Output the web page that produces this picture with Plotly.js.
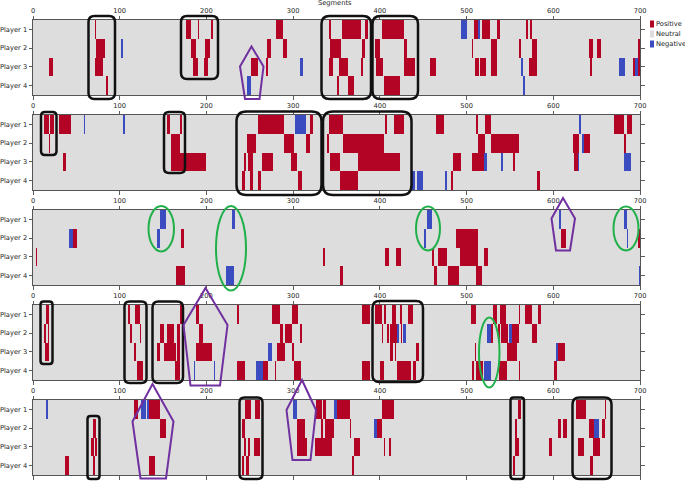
<!DOCTYPE html>
<html>
<head>
<meta charset="utf-8">
<script src="https://cdn.plot.ly/plotly-3.0.1.min.js"></script>
<style>html,body{margin:0;padding:0;background:#fff;}#chart{width:685px;height:481px;}</style>
</head>
<body>
<div id="chart"></div>
<script>
// ---------- DATA (segment intervals [start, end) per player) ----------
const nSegments = 700;
const xTickVals = [0, 100, 200, 300, 400, 500, 600, 700];
const playerLabels = ['Player 1', 'Player 2', 'Player 3', 'Player 4'];
const legendLabels = ['Positive', 'Neutral', 'Negative'];

const panel1Pos = [
  [[72,73],[176,182],[190,192],[205,208],[280,288],[341,344],[356,378],[383,386],[402,428],[508,513],[518,527],[535,538],[568,571],[573,575]],
  [[73,83],[182,188],[198,204],[270,274],[288,293],[343,355],[379,383],[394,400],[428,431],[506,507],[528,535],[560,563],[576,581],[641,646],[650,655],[698,700]],
  [[18,23],[72,81],[184,190],[197,202],[251,259],[269,271],[341,346],[353,363],[378,381],[396,404],[428,441],[458,465],[510,514],[516,522],[528,535],[572,581],[642,645],[692,694],[698,700]],
  [[84,87],[350,353],[363,370],[405,423]]
];
const panel1Neg = [
  [[494,500],[513,515]],
  [[102,104]],
  [[308,311],[563,565],[676,683],[694,698]],
  [[247,251],[565,567]]
];

const panel2Pos = [
  [[13,18],[20,24],[30,44],[155,158],[170,172],[260,289],[320,323],[341,357],[406,408],[416,428],[465,474],[511,513],[521,528],[670,681],[685,691]],
  [[18,20],[159,170],[247,257],[290,301],[315,319],[339,341],[358,405],[513,521],[528,560],[623,630],[635,642],[682,684]],
  [[35,38],[159,200],[243,246],[248,254],[264,277],[297,305],[342,354],[375,423],[484,494],[506,520],[553,556],[624,628]],
  [[241,245],[250,254],[259,263],[306,310],[354,375],[482,484],[581,585]]
];
const panel2Neg = [
  [[59,60],[104,106],[302,315],[630,632]],
  [[633,635]],
  [[520,524],[540,542],[628,630],[681,690]],
  [[437,441],[443,450],[475,478]]
];

const panel3Pos = [
  [],
  [[46,51],[171,174],[488,513],[609,615],[698,700]],
  [[3,5],[335,337],[406,411],[419,424],[460,462],[467,478],[492,513],[520,525]],
  [[165,175],[354,357],[463,466],[479,491],[511,518]]
];
const panel3Neg = [
  [[147,153],[229,233],[454,460],[607,609],[681,685]],
  [[41,46],[143,147],[451,453],[685,686]],
  [],
  [[223,232],[699,700]]
];

const panel4Pos = [
  [[15,18],[110,112],[118,123],[170,174],[188,191],[235,238],[276,285],[299,306],[379,389],[394,402],[405,407],[414,419],[423,425],[432,438],[505,511],[530,535],[538,546],[561,562],[567,576],[582,586]],
  [[13,15],[17,19],[112,114],[123,125],[146,151],[155,163],[166,169],[192,196],[285,288],[291,299],[308,310],[402,404],[408,410],[412,420],[424,426],[528,530],[536,538],[540,548],[552,560],[576,581]],
  [[14,19],[117,119],[143,147],[151,165],[166,170],[188,206],[281,291],[299,301],[412,415],[417,419],[442,445],[510,511],[547,558],[606,614]],
  [[120,127],[164,170],[235,244],[265,271],[279,280],[301,309],[379,389],[400,405],[420,436],[438,442],[506,509],[511,519],[537,547],[560,562],[601,604]]
];
const panel4Neg = [
  [],
  [[420,422],[427,430],[523,528],[549,552]],
  [[271,276],[603,606]],
  [[186,187],[209,210],[257,265],[520,528]]
];

const panel5Pos = [
  [[117,121],[134,146],[244,251],[256,262],[326,333],[335,338],[351,366],[402,416],[559,563],[626,638],[660,661]],
  [[69,73],[146,153],[241,244],[305,314],[332,335],[337,347],[366,367],[397,403],[556,558],[605,609],[611,616],[641,647],[656,660]],
  [[67,70],[72,74],[243,246],[248,250],[255,262],[305,316],[325,345],[370,377],[405,406],[410,413],[556,561],[595,598],[628,635],[646,654]],
  [[37,41],[69,72],[134,141],[241,243],[246,249],[368,370],[554,556],[642,646]]
];
const panel5Neg = [
  [[15,17],[125,130],[131,134],[300,305],[347,351]],
  [[393,397],[647,653]],
  [],
  []
];

// ---------- BUILD ----------
function buildZ(pos, neg) {
  const z = [];
  for (let r = 0; r < 4; r++) {
    const row = new Array(nSegments).fill(0);
    pos[r].forEach(([a, b]) => { for (let i = a; i < b && i < nSegments; i++) row[i] = 1; });
    neg[r].forEach(([a, b]) => { for (let i = a; i < b && i < nSegments; i++) row[i] = -1; });
    z.push(row);
  }
  return z;
}

const panels = [
  [panel1Pos, panel1Neg], [panel2Pos, panel2Neg], [panel3Pos, panel3Neg],
  [panel4Pos, panel4Neg], [panel5Pos, panel5Neg]
];
const xCenters = Array.from({length: nSegments}, (_, i) => i + 0.5);
const colors = {pos: '#b40426', neu: '#dddddd', neg: '#3b4cc0'};
const colorscale = [[0, colors.neg], [0.5, colors.neu], [1, colors.pos]];
const FS = 6.7;
const tickFont = {family: 'DejaVu Sans', size: FS, color: '#222'};

// pixel -> paper helpers (margins: l=33, r=45, t=20, b=6)
const L = 33, R = 640, T = 20, B = 475;
const px = v => (v - L) / (R - L);
const py = v => (B - v) / (B - T);

const panelTops = [20, 115, 210, 305, 400];
const panelH = 75;

const traces = [];
const layout = {
  width: 685, height: 481,
  margin: {l: L, r: 685 - R, t: T, b: 481 - B, pad: 0},
  paper_bgcolor: '#ffffff', plot_bgcolor: colors.neu,
  showlegend: false,
  font: {family: 'DejaVu Sans', size: FS, color: '#222'},
  shapes: [], annotations: []
};

panels.forEach(([pos, neg], k) => {
  const sfx = k === 0 ? '' : String(k + 1);
  traces.push({
    type: 'heatmap', x: xCenters, y: [0, 1, 2, 3], z: buildZ(pos, neg),
    zmin: -1, zmax: 1, colorscale: colorscale, showscale: false,
    hoverinfo: 'skip', xaxis: 'x' + sfx, yaxis: 'y' + sfx
  });
  const top = panelTops[k];
  layout['xaxis' + sfx] = {
    domain: [0, 1], range: [0, nSegments], anchor: 'y' + sfx, side: 'top',
    tickvals: xTickVals, ticktext: xTickVals.map(String),
    ticks: 'outside', ticklen: 3.5, tickwidth: 0.8, tickcolor: '#333',
    showline: true, linecolor: '#555', linewidth: 1, mirror: 'ticks',
    showgrid: false, zeroline: false, fixedrange: true, tickfont: tickFont
  };
  layout['yaxis' + sfx] = {
    domain: [py(top + panelH), py(top)], range: [3.5, -0.5], anchor: 'x' + sfx,
    tickvals: [0, 1, 2, 3], ticktext: playerLabels,
    ticks: 'outside', ticklen: 3.5, tickwidth: 0.8, tickcolor: '#333',
    showline: true, linecolor: '#555', linewidth: 1, mirror: 'ticks',
    showgrid: false, zeroline: false, fixedrange: true, tickfont: tickFont
  };
});

// axis title "Segments"
layout.annotations.push({
  text: 'Segments', xref: 'paper', yref: 'paper', x: px(335), y: py(3.5),
  xanchor: 'center', yanchor: 'middle', showarrow: false, font: tickFont
});

// legend
const legendColors = [colors.pos, colors.neu, colors.neg];
legendLabels.forEach((lab, i) => {
  const cy = 24 + i * 10;
  layout.shapes.push({
    type: 'rect', xref: 'paper', yref: 'paper', layer: 'above',
    x0: px(650), x1: px(654), y0: py(cy - 3.5), y1: py(cy + 3.5),
    fillcolor: legendColors[i], line: {width: 0}
  });
  layout.annotations.push({
    text: lab, xref: 'paper', yref: 'paper', x: px(653.5), y: py(cy),
    xanchor: 'left', yanchor: 'middle', showarrow: false, font: tickFont
  });
});

// annotation shapes (pixel positions)
function pathFromPts(pts, close) {
  return pts.map((p, i) => (i === 0 ? 'M' : 'L') + px(p[0]).toFixed(5) + ',' + py(p[1]).toFixed(5)).join(' ') + (close ? ' Z' : '');
}
function roundRect(x0, y0, x1, y1, r) {
  const f = (x, y) => px(x).toFixed(5) + ',' + py(y).toFixed(5);
  return 'M' + f(x0 + r, y0) + ' L' + f(x1 - r, y0) + ' Q' + f(x1, y0) + ' ' + f(x1, y0 + r) +
    ' L' + f(x1, y1 - r) + ' Q' + f(x1, y1) + ' ' + f(x1 - r, y1) +
    ' L' + f(x0 + r, y1) + ' Q' + f(x0, y1) + ' ' + f(x0, y1 - r) +
    ' L' + f(x0, y0 + r) + ' Q' + f(x0, y0) + ' ' + f(x0 + r, y0) + ' Z';
}
const blackBoxes = [
  [88.5, 16, 115, 99, 6], [181, 16, 218, 79, 6], [321.5, 16, 371, 99, 8], [372.5, 16, 418, 99, 8],
  [41, 112, 56.5, 155, 4], [164, 112, 185, 173, 5], [236.5, 111.5, 321.5, 195, 10], [323, 111.5, 411.5, 195, 10],
  [40.5, 301.5, 52.5, 364, 3], [124.5, 301.5, 146.5, 383, 5], [152.5, 301.5, 183, 383, 6], [372.5, 301, 423, 382, 7],
  [87.5, 416, 99.5, 479, 3], [239.5, 397.5, 262.5, 479, 5], [510.5, 397.5, 524, 479, 3], [572.5, 397.5, 611.5, 479, 7]
];
blackBoxes.forEach(b => layout.shapes.push({
  type: 'path', xref: 'paper', yref: 'paper', layer: 'above',
  path: roundRect(b[0], b[1], b[2], b[3], b[4]),
  line: {color: '#111111', width: 2.5}, fillcolor: 'rgba(0,0,0,0)'
}));
const purplePentagons = [
  [[251.5, 46.5], [263.5, 66.5], [259.5, 99], [245, 99], [240, 66.5]],
  [[563, 198], [575, 218.5], [570, 250.5], [556, 250.5], [551.5, 218.5]],
  [[205.5, 288], [227.5, 325], [220, 385.5], [190.5, 385.5], [183.5, 325]],
  [[152.5, 384], [173.5, 421.5], [166, 478.5], [140.5, 478.5], [132.5, 421.5]],
  [[302, 380], [316, 410], [310.5, 460], [292.5, 460], [286.5, 410]]
];
purplePentagons.forEach(p => layout.shapes.push({
  type: 'path', xref: 'paper', yref: 'paper', layer: 'above',
  path: pathFromPts(p, true), line: {color: '#7030a0', width: 2}, fillcolor: 'rgba(0,0,0,0)'
}));
const greenEllipses = [
  [148.5, 206, 174, 251.5], [216, 206, 246, 290.5], [416, 206.5, 440, 250.5], [613.5, 206.5, 638.5, 250.5],
  [479, 317.5, 499.5, 387.5]
];
greenEllipses.forEach(e => layout.shapes.push({
  type: 'circle', xref: 'paper', yref: 'paper', layer: 'above',
  x0: px(e[0]), x1: px(e[2]), y0: py(e[3]), y1: py(e[1]),
  line: {color: '#1fb04a', width: 2}, fillcolor: 'rgba(0,0,0,0)'
}));

Plotly.newPlot('chart', traces, layout, {staticPlot: true, displayModeBar: false});
</script>
</body>
</html>
